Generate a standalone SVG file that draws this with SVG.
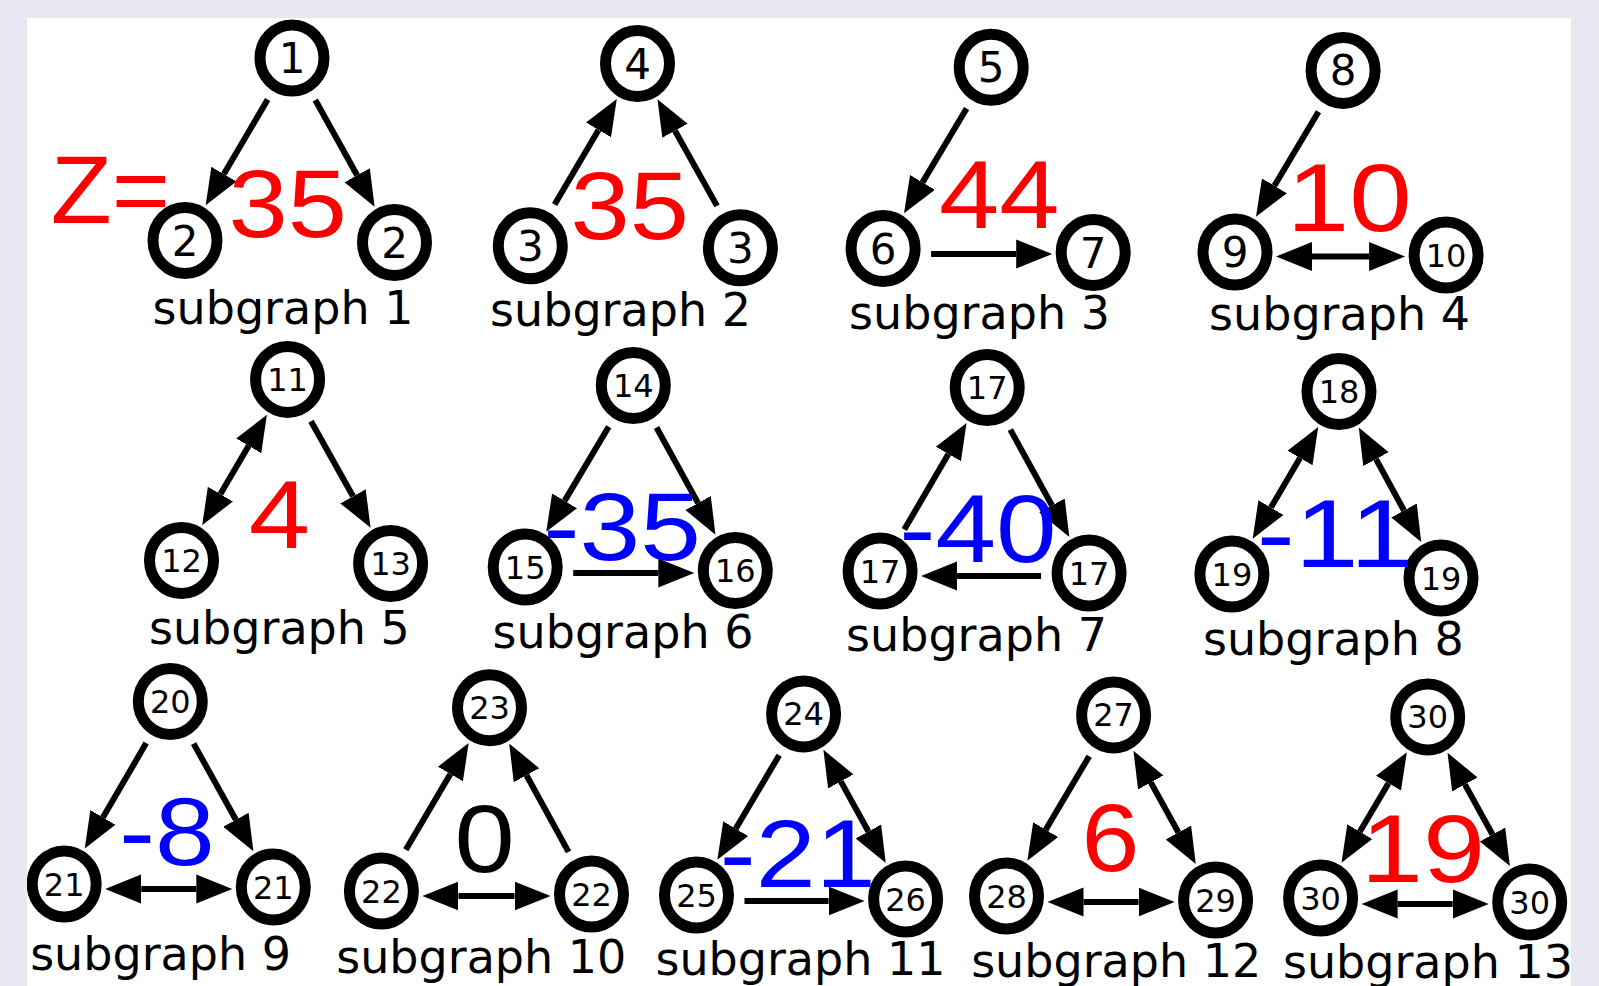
<svg xmlns="http://www.w3.org/2000/svg" width="1599" height="986" viewBox="0 0 1599 986">
<style>
.nd ellipse{fill:#fff;stroke:#000;stroke-width:11}
.nd text{font-family:"DejaVu Sans",sans-serif;fill:#000;text-anchor:middle}
.s1{font-size:42px}
.s2{font-size:32px}
.lbl{font-family:"DejaVu Sans",sans-serif;font-size:46px;fill:#000;text-anchor:middle}
.z{font-family:"Liberation Sans",Arial,sans-serif;font-size:97px}
.r{fill:#ff0000}
.b{fill:#0000ff}
.k{fill:#000}
#edges line{stroke:#000;stroke-width:6}
.a{marker-end:url(#ah)}
.d{marker-start:url(#ah);marker-end:url(#ah)}
</style>
<defs>
<marker id="ah" markerUnits="userSpaceOnUse" markerWidth="40" markerHeight="32" refX="0" refY="16" orient="auto-start-reverse" viewBox="0 0 40 32">
<path d="M0,1.5 L36,16 L0,30.5 z" fill="#000"/>
</marker>
<clipPath id="panel"><rect x="27" y="18" width="1544" height="968"/></clipPath>
</defs>
<rect x="0" y="0" width="1599" height="986" fill="#e8e8f2"/>
<rect x="27" y="18" width="1544" height="968" fill="#fff"/>
<g clip-path="url(#panel)">
<g id="edges">
<line class="a" x1="267.7" y1="99.4" x2="223.9" y2="174.1"/>
<line class="a" x1="315.3" y1="100" x2="357.1" y2="175.2"/>
<line class="a" x1="554.6" y1="204.4" x2="598.5" y2="129.9"/>
<line class="a" x1="717" y1="205.9" x2="675" y2="130.7"/>
<line class="a" x1="966.6" y1="108.5" x2="922.5" y2="182.4"/>
<line class="a" x1="931.1" y1="254" x2="1016.2" y2="254"/>
<line class="a" x1="1318.5" y1="111.7" x2="1274.4" y2="185.8"/>
<line class="d" x1="1312" y1="256.5" x2="1369.1" y2="256.5"/>
<line class="d" x1="248.7" y1="445.8" x2="220.4" y2="494.1"/>
<line class="a" x1="311" y1="421.3" x2="353" y2="496.3"/>
<line class="a" x1="608.7" y1="426.7" x2="564.6" y2="500.9"/>
<line class="a" x1="656.5" y1="427.5" x2="698.1" y2="503.1"/>
<line class="a" x1="573.2" y1="573" x2="658.3" y2="573"/>
<line class="a" x1="904.3" y1="529.6" x2="948.4" y2="454"/>
<line class="a" x1="1010.3" y1="429.6" x2="1052" y2="505.5"/>
<line class="a" x1="1041.1" y1="576" x2="957.1" y2="576"/>
<line class="d" x1="1300" y1="458" x2="1270.9" y2="507.6"/>
<line class="d" x1="1376" y1="459.1" x2="1404" y2="510.5"/>
<line class="a" x1="146.2" y1="743.1" x2="102.9" y2="817.4"/>
<line class="a" x1="193.6" y1="743.6" x2="235.9" y2="819.7"/>
<line class="d" x1="141.2" y1="889" x2="196.3" y2="889"/>
<line class="a" x1="405.8" y1="849.7" x2="450.4" y2="774"/>
<line class="a" x1="568.5" y1="851.9" x2="526.5" y2="775.2"/>
<line class="d" x1="458.4" y1="896" x2="514.5" y2="896"/>
<line class="a" x1="779.2" y1="755.2" x2="735.7" y2="828.7"/>
<line class="d" x1="840.8" y1="781.4" x2="868.4" y2="831.5"/>
<line class="a" x1="744.5" y1="901" x2="828.6" y2="901"/>
<line class="a" x1="1089.2" y1="756.2" x2="1045.7" y2="829.7"/>
<line class="d" x1="1150.8" y1="782.4" x2="1178.4" y2="832.5"/>
<line class="d" x1="1083.5" y1="902" x2="1138.6" y2="902"/>
<line class="d" x1="1388.5" y1="783.2" x2="1359.8" y2="831.7"/>
<line class="d" x1="1464.9" y1="784.4" x2="1492.5" y2="834.5"/>
<line class="d" x1="1397.6" y1="904" x2="1452.7" y2="904"/>
</g>
<g id="n1" class="nd" transform="translate(292,58)"><ellipse rx="32" ry="33"/><text class="s1" y="15">1</text></g>
<g id="n2a" class="nd" transform="translate(185,240.5)"><ellipse rx="32" ry="33"/><text class="s1" y="15">2</text></g>
<g id="n2b" class="nd" transform="translate(394.5,242.5)"><ellipse rx="32" ry="33"/><text class="s1" y="15">2</text></g>
<g id="n4" class="nd" transform="translate(637.5,63.5)"><ellipse rx="32" ry="33"/><text class="s1" y="15">4</text></g>
<g id="n3a" class="nd" transform="translate(530.3,245.8)"><ellipse rx="32" ry="33"/><text class="s1" y="15">3</text></g>
<g id="n3b" class="nd" transform="translate(740.4,247.8)"><ellipse rx="32" ry="33"/><text class="s1" y="15">3</text></g>
<g id="n5" class="nd" transform="translate(991.2,67.3)"><ellipse rx="32" ry="33"/><text class="s1" y="15">5</text></g>
<g id="n6" class="nd" transform="translate(883.1,248.5)"><ellipse rx="32" ry="33"/><text class="s1" y="15">6</text></g>
<g id="n7" class="nd" transform="translate(1093.2,252.5)"><ellipse rx="32" ry="33"/><text class="s1" y="15">7</text></g>
<g id="n8" class="nd" transform="translate(1343.1,70.4)"><ellipse rx="32" ry="33"/><text class="s1" y="15">8</text></g>
<g id="n9" class="nd" transform="translate(1235,252)"><ellipse rx="32" ry="33"/><text class="s1" y="15">9</text></g>
<g id="n10" class="nd" transform="translate(1446.1,255)"><ellipse rx="32" ry="33"/><text class="s2" y="11.5">10</text></g>
<g id="n11" class="nd" transform="translate(287.6,379.4)"><ellipse rx="32" ry="33"/><text class="s2" y="11.5">11</text></g>
<g id="n12" class="nd" transform="translate(181.5,560.5)"><ellipse rx="32" ry="33"/><text class="s2" y="11.5">12</text></g>
<g id="n13" class="nd" transform="translate(390.6,563.5)"><ellipse rx="32" ry="33"/><text class="s2" y="11.5">13</text></g>
<g id="n14" class="nd" transform="translate(633.3,385.5)"><ellipse rx="32" ry="33"/><text class="s2" y="11.5">14</text></g>
<g id="n15" class="nd" transform="translate(525.2,567)"><ellipse rx="32" ry="33"/><text class="s2" y="11.5">15</text></g>
<g id="n16" class="nd" transform="translate(735.3,570.5)"><ellipse rx="32" ry="33"/><text class="s2" y="11.5">16</text></g>
<g id="n17a" class="nd" transform="translate(987.2,387.5)"><ellipse rx="32" ry="33"/><text class="s2" y="11.5">17</text></g>
<g id="n17b" class="nd" transform="translate(880.1,571)"><ellipse rx="32" ry="33"/><text class="s2" y="11.5">17</text></g>
<g id="n17c" class="nd" transform="translate(1089.1,573)"><ellipse rx="32" ry="33"/><text class="s2" y="11.5">17</text></g>
<g id="n18" class="nd" transform="translate(1339,391.6)"><ellipse rx="32" ry="33"/><text class="s2" y="11.5">18</text></g>
<g id="n19a" class="nd" transform="translate(1231.9,574)"><ellipse rx="32" ry="33"/><text class="s2" y="11.5">19</text></g>
<g id="n19b" class="nd" transform="translate(1441,578)"><ellipse rx="32" ry="33"/><text class="s2" y="11.5">19</text></g>
<g id="n20" class="nd" transform="translate(170.3,701.6)"><ellipse rx="32" ry="33"/><text class="s2" y="11.5">20</text></g>
<g id="n21a" class="nd" transform="translate(64.2,884)"><ellipse rx="32" ry="33"/><text class="s2" y="11.5">21</text></g>
<g id="n21b" class="nd" transform="translate(273.3,887)"><ellipse rx="32" ry="33"/><text class="s2" y="11.5">21</text></g>
<g id="n23" class="nd" transform="translate(489.5,707.7)"><ellipse rx="32" ry="33"/><text class="s2" y="11.5">23</text></g>
<g id="n22a" class="nd" transform="translate(381.4,891)"><ellipse rx="32" ry="33"/><text class="s2" y="11.5">22</text></g>
<g id="n22b" class="nd" transform="translate(591.5,894)"><ellipse rx="32" ry="33"/><text class="s2" y="11.5">22</text></g>
<g id="n24" class="nd" transform="translate(803.6,713.9)"><ellipse rx="32" ry="33"/><text class="s2" y="11.5">24</text></g>
<g id="n25" class="nd" transform="translate(696.5,895)"><ellipse rx="32" ry="33"/><text class="s2" y="11.5">25</text></g>
<g id="n26" class="nd" transform="translate(905.6,899)"><ellipse rx="32" ry="33"/><text class="s2" y="11.5">26</text></g>
<g id="n27" class="nd" transform="translate(1113.6,714.9)"><ellipse rx="32" ry="33"/><text class="s2" y="11.5">27</text></g>
<g id="n28" class="nd" transform="translate(1006.5,896)"><ellipse rx="32" ry="33"/><text class="s2" y="11.5">28</text></g>
<g id="n29" class="nd" transform="translate(1215.6,900)"><ellipse rx="32" ry="33"/><text class="s2" y="11.5">29</text></g>
<g id="n30a" class="nd" transform="translate(1427.7,716.9)"><ellipse rx="32" ry="33"/><text class="s2" y="11.5">30</text></g>
<g id="n30b" class="nd" transform="translate(1320.6,898)"><ellipse rx="32" ry="33"/><text class="s2" y="11.5">30</text></g>
<g id="n30c" class="nd" transform="translate(1529.7,902)"><ellipse rx="32" ry="33"/><text class="s2" y="11.5">30</text></g>
<g id="values">
<text class="z r" x="50.7" y="223" textLength="119.3" lengthAdjust="spacingAndGlyphs">Z=</text>
<text class="z r" x="228.5" y="237" textLength="118.5" lengthAdjust="spacingAndGlyphs">35</text>
<text class="z r" x="570.5" y="239" textLength="118.5" lengthAdjust="spacingAndGlyphs">35</text>
<text class="z r" x="939" y="228" textLength="120.5" lengthAdjust="spacingAndGlyphs">44</text>
<text class="z r" x="1286.7" y="231" textLength="125" lengthAdjust="spacingAndGlyphs">10</text>
<text class="z r" x="248.7" y="548" textLength="61.3" lengthAdjust="spacingAndGlyphs">4</text>
<text class="z b" x="543.2" y="560" textLength="157.8" lengthAdjust="spacingAndGlyphs">-35</text>
<text class="z b" x="899.2" y="562" textLength="157.4" lengthAdjust="spacingAndGlyphs">-40</text>
<text class="z b" x="1256.8" y="567" textLength="156.8" lengthAdjust="spacingAndGlyphs">-11</text>
<text class="z b" x="119.2" y="865" textLength="95.5" lengthAdjust="spacingAndGlyphs">-8</text>
<text class="z k" x="454.4" y="872" textLength="60.2" lengthAdjust="spacingAndGlyphs">0</text>
<text class="z b" x="719.7" y="887" textLength="156" lengthAdjust="spacingAndGlyphs">-21</text>
<text class="z r" x="1081.6" y="871" textLength="57.9" lengthAdjust="spacingAndGlyphs">6</text>
<text class="z r" x="1360.8" y="882" textLength="124.3" lengthAdjust="spacingAndGlyphs">19</text>
</g>
<g id="labels">
<text class="lbl" x="283" y="324">subgraph 1</text>
<text class="lbl" x="620.5" y="326">subgraph 2</text>
<text class="lbl" x="979.5" y="329">subgraph 3</text>
<text class="lbl" x="1339.5" y="330">subgraph 4</text>
<text class="lbl" x="279.4" y="644">subgraph 5</text>
<text class="lbl" x="623" y="648">subgraph 6</text>
<text class="lbl" x="976.5" y="651">subgraph 7</text>
<text class="lbl" x="1333.4" y="655">subgraph 8</text>
<text class="lbl" x="160.6" y="970">subgraph 9</text>
<text class="lbl" x="481.3" y="973">subgraph 10</text>
<text class="lbl" x="800.5" y="975">subgraph 11</text>
<text class="lbl" x="1116.2" y="977">subgraph 12</text>
<text class="lbl" x="1428" y="978">subgraph 13</text>
</g>
</g>
</svg>
